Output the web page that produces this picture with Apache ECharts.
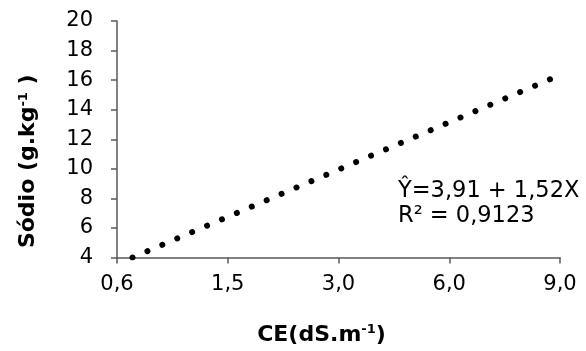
<!DOCTYPE html>
<html>
<head>
<meta charset="utf-8">
<script src="https://cdn.jsdelivr.net/npm/echarts@6/dist/echarts.min.js"></script>
<style>
html,body{margin:0;padding:0;background:#fff;}
#c{width:586px;height:351px;}
</style>
</head>
<body>
<div id="c"></div>
<script>
// Data
const categories = ['0,6', '1,5', '3,0', '6,0', '9,0'];
const yMin = 4, yMax = 20, yStep = 2;
// Trend line endpoints (x in category-position units, y in g/kg)
const trendX = [0.14, 3.92];
const trendY = [4.0, 16.09];
const equationText = 'Ŷ=3,91 + 1,52X';
const r2Text = 'R² = 0,9123';

const FONT = 'DejaVu Sans';
const axisColor = '#595959';

const chart = echarts.init(document.getElementById('c'), null, {renderer: 'canvas'});
chart.setOption({
  animation: false,
  backgroundColor: '#fff',
  grid: {left: 117, right: 26, top: 21, bottom: 93, containLabel: false},
  xAxis: {
    type: 'value',
    min: 0, max: categories.length - 1, interval: 1,
    splitLine: {show: false},
    axisLine: {show: true, lineStyle: {color: axisColor, width: 1.5}},
    axisTick: {show: true, length: 6, lineStyle: {color: axisColor, width: 1.5}},
    axisLabel: {
      margin: 17,
      color: '#000', fontFamily: FONT, fontSize: 21,
      formatter: v => categories[Math.round(v)] ?? ''
    },
    name: '{b|CE(dS.m}{s|-1}{b|)}',
    nameLocation: 'middle',
    nameGap: 66,
    nameTextStyle: {
      padding: [0, 34, 0, 0],
      rich: {
        b: {fontFamily: FONT, fontWeight: 'bold', fontSize: 22, color: '#000'},
        s: {fontFamily: FONT, fontWeight: 'bold', fontSize: 13, color: '#000', padding: [0, 0, 10, 0]}
      }
    }
  },
  yAxis: {
    type: 'value',
    min: yMin, max: yMax, interval: yStep,
    splitLine: {show: false},
    axisLine: {show: true, lineStyle: {color: axisColor, width: 1.5}},
    axisTick: {show: true, length: 6, lineStyle: {color: axisColor, width: 1.5}},
    axisLabel: {margin: 24, color: '#000', fontFamily: FONT, fontSize: 21},
    name: '{b|Sódio (g.kg}{s|-1}{b| )}',
    nameLocation: 'middle',
    nameRotate: 90,
    nameGap: 77,
    nameTextStyle: {
      padding: [0, 44, 0, 0],
      rich: {
        b: {fontFamily: FONT, fontWeight: 'bold', fontSize: 22, color: '#000'},
        s: {fontFamily: FONT, fontWeight: 'bold', fontSize: 13, color: '#000', padding: [0, 0, 10, 0]}
      }
    }
  },
  series: [{
    type: 'line',
    data: trendX.map((x, i) => [x, trendY[i]]),
    symbol: 'none',
    clip: true,
    lineStyle: {color: '#000', width: 6, type: [0.01, 16.2], cap: 'round'}
  }],
  graphic: [{
    type: 'text',
    left: 398, top: 179,
    style: {
      text: equationText + '\n' + r2Text,
      fontFamily: FONT, fontSize: 22.5, lineHeight: 25, fill: '#000'
    }
  }]
});
</script>
</body>
</html>
